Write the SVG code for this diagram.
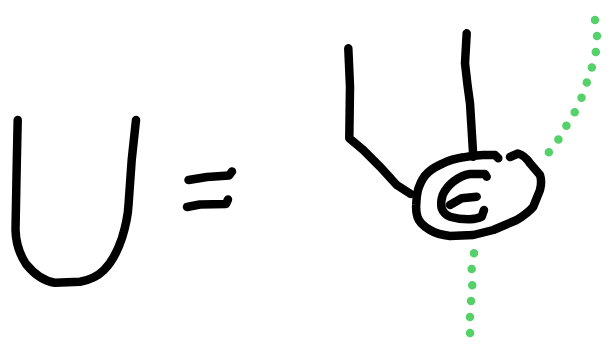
<svg xmlns="http://www.w3.org/2000/svg" width="615" height="359" viewBox="0 0 615 359">
<style>
.ink{fill:none;stroke:#000;stroke-width:8.5;stroke-linecap:round;stroke-linejoin:round}
.dots{fill:none;stroke:#55d16a;stroke-width:8.5;stroke-linecap:round;stroke-dasharray:0 16}
</style>
<rect width="615" height="359" fill="#fff"/>
<g id="lhs-U">
<path class="ink" d="M17.7,120 L16.7,166.7 L15.5,230 C16,245 20,255 26,264 C34,274 43,281 55,282.7 L80,281.7 C90,280 98,276 104,270 C112,262 118,250 122,238 C126,225 128,215 128.5,205 L131.7,160 L136,120"/>
</g>
<g id="equals">
<path class="ink" d="M188.5,180 L207,177 L229,175.5 L232,171.5"/>
<path class="ink" d="M187,207 L200,204.5 L226,204 L228,199.5"/>
</g>
<g id="rhs">
<path class="ink" d="M348.3,48.3 L350,86.7 L349.3,138.3 L363.3,150 L380,166.7 L396.7,185 L410.7,194"/>
<path class="ink" d="M466.7,33.3 L465,63.3 L467.5,85 L470,103.3 L473.3,156.7"/>
<path class="ink" d="M510,157 L518,153.5 C524,155 527,159 530,163.3 L540,175 C542,181 541,186 540,190 L533.3,206.7 C528,213 523,216 516.7,220 L493.3,230 L473.3,235 L450,236 C441,235 435,233 430,230 C423,226 419,222 417.5,217 C416,212 416,208 416.2,205 C416.5,198 417,193 418.5,188.3 C421,181 424,176 428,172.5 C433,168 438,165.5 443.3,163.3 C450,160 456,158.5 463.3,157.3 C470,156 477,155.2 483.3,155 L495,155 L498.3,158.3"/>
<path class="ink" d="M486.7,176.7 L485,174 L470,174 C463,175 458,178 453.3,181.7 C448,186 445,190 442.7,195 C441,200 441,205 441.7,208.3 C443,212 446,215 450,216.7 C456,218.5 463,219.5 470,219.3 C475,219 479,218 481.7,216.7 L484,210"/>
<path class="ink" d="M450,205 L461.7,198.3 L476.7,196.7"/>
</g>
<g id="green-strands">
<path class="dots" d="M595,20 C597,30 597.5,40 596.7,45 C596,52 595,57 593.3,62.7 C591,70 589,77 586.7,82.7 C584.5,89 582.5,95 580.7,100 C578,106 575,112 571.7,117.3 C568,123 564.5,129 561,134 C559,138 558,141 555.7,144 C553,147.5 550,151 546.7,154.5"/>
<path class="dots" d="M474,253.3 C473,259 472,263 471.7,268.3 C471.7,273 472.3,278 472.3,283.3 C472,290 471.2,296 471,301.7 C470.5,307 470,312 470,316 L470,331.7 L470.7,347.3"/>
</g>
</svg>
